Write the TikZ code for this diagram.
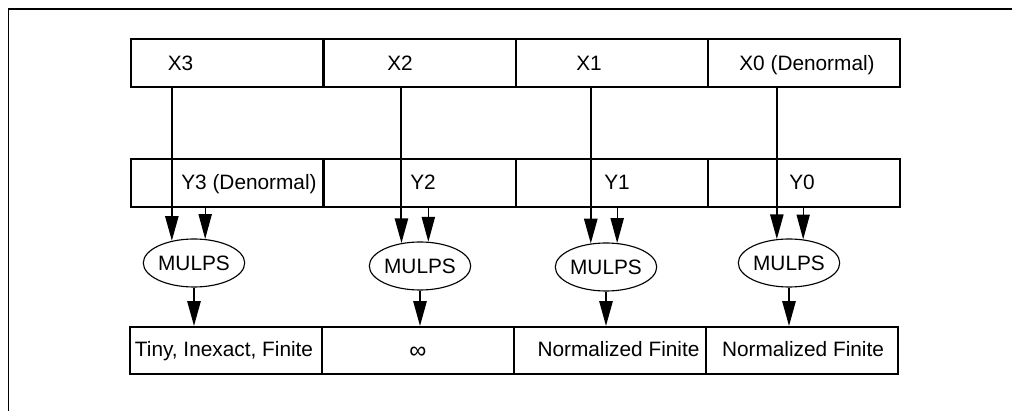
\documentclass[tikz,border=0pt]{standalone}
\usepackage{fontspec}
\setmainfont{Liberation Sans}
\usetikzlibrary{shapes.geometric, arrows.meta}

\begin{document}
\begin{tikzpicture}[x=0.025cm, y=-0.025cm, font=\fontsize{14.8}{18}\selectfont,
  cell/.style={draw, line width=1.4pt, minimum width=4.8cm, minimum height=1.2cm, inner sep=0pt},
  lbl/.style={anchor=base, inner sep=0pt},
  op/.style={draw, ellipse, line width=0.8pt, minimum width=2.375cm, minimum height=1.2cm, inner sep=0pt},
  arr/.style={-{Triangle[length=0.62cm, width=0.33cm]}, line width=1.4pt},
  thinarr/.style={-{Triangle[length=0.62cm, width=0.33cm]}, line width=0.8pt}]
\useasboundingbox (0,0) rectangle (1012,411);
% outer frame, cut off at the right and bottom
\draw[line width=1.4pt] (1014,9) -- (8.5,9) -- (8.5,413);
% source operand X
\node[cell] (x3box) at (227.5,63) {};
\node[cell] (x2box) at (419.5,63) {};
\node[cell] (x1box) at (612,63) {};
\node[cell] (x0box) at (804,63) {};
\node[lbl] (x3) at (180.5,71) {X3};
\node[lbl] (x2) at (400,71) {X2};
\node[lbl] (x1) at (589,71) {X1};
\node[lbl] (x0) at (807,71) {X0 (Denormal)};
% source operand Y
\node[cell] (y3box) at (227.5,183) {};
\node[cell] (y2box) at (419.5,183) {};
\node[cell] (y1box) at (612,183) {};
\node[cell] (y0box) at (804,183) {};
\node[lbl] (y3) at (249,190) {Y3 (Denormal)};
\node[lbl] (y2) at (423,190) {Y2};
\node[lbl] (y1) at (617,190) {Y1};
\node[lbl] (y0) at (802,190) {Y0};
% the four multiplications
\node[op] (op3) at (194,263) {MULPS};
\node[op] (op2) at (420,266) {MULPS};
\node[op] (op1) at (606,267) {MULPS};
\node[op] (op0) at (789,263) {MULPS};
% results
\node[cell, minimum height=1.175cm] (r3box) at (226,350.5) {};
\node[cell, minimum height=1.175cm] (r2box) at (418,350.5) {};
\node[cell, minimum height=1.175cm] (r1box) at (610,350.5) {};
\node[cell, minimum height=1.175cm] (r0box) at (802,350.5) {};
\node[lbl] (r3) at (224,357) {Tiny, Inexact, Finite};
\node[lbl, font=\fontsize{17}{17}\selectfont] (r2) at (418,359) {∞};
\node[lbl] (r1) at (618.5,357) {Normalized Finite};
\node[lbl] (r0) at (803,357) {Normalized Finite};
% operands into the multiplications
\draw[arr] (op3.135 |- x3box.south) -- (op3.135);
\draw[arr] (op2.129 |- x2box.south) -- (op2.129);
\draw[arr] (op1.123 |- x1box.south) -- (op1.123);
\draw[arr] (op0.117 |- x0box.south) -- (op0.117);
\draw[thinarr] (op3.65 |- y3box.south) -- (op3.65);
\draw[thinarr] (op2.71 |- y2box.south) -- (op2.71);
\draw[thinarr] (op1.65 |- y1box.south) -- (op1.65);
\draw[thinarr] (op0.59 |- y0box.south) -- (op0.59);
% products into the result
\draw[arr] (op3.south) -- (op3.south |- r3box.north);
\draw[arr] (op2.south) -- (op2.south |- r2box.north);
\draw[arr] (op1.south) -- (op1.south |- r1box.north);
\draw[arr] (op0.south) -- (op0.south |- r0box.north);
\end{tikzpicture}
\end{document}
